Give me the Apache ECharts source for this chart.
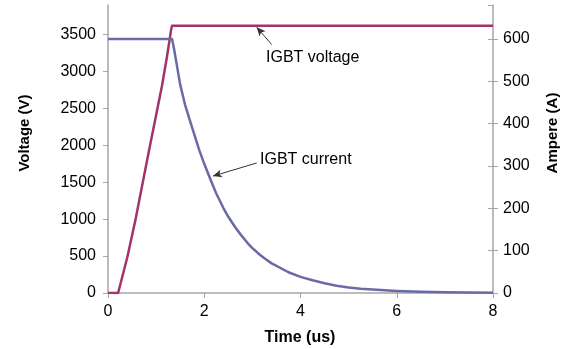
<!DOCTYPE html>
<html><head><meta charset="utf-8">
<script src="https://cdn.jsdelivr.net/npm/echarts@6/dist/echarts.min.js"></script>
<style>html,body{margin:0;padding:0;background:#fff}#c{width:574px;height:349px}</style>
</head><body><div id="c"></div>
<script>
// Time (us) and values
const voltageTime = [0, 0.21, 0.40, 0.57, 0.84, 1.12, 1.22, 1.28, 1.31, 1.33, 8];
const voltageVals = [0, 0, 480, 990, 1890, 2800, 3180, 3430, 3560, 3620, 3620];
const currentTime = [0, 1.33, 1.37, 1.42, 1.5, 1.6, 1.75, 1.9, 2.0, 2.15, 2.25, 2.4, 2.5, 2.65, 2.75, 2.9, 3.0, 3.15, 3.25, 3.4, 3.5, 3.75, 4.0, 4.25, 4.5, 4.75, 5.0, 5.25, 5.5, 6.0, 6.5, 7.0, 7.5, 8.0];
const currentVals = [600, 600, 578, 545, 492, 445, 390, 336, 305, 262, 235, 200, 180, 154, 139, 118, 106, 91, 82, 70, 64, 49, 38, 30, 23, 17, 13, 10, 8, 5, 3, 2, 1, 0.5];
const xTicks = [0, 2, 4, 6, 8];
const voltageTicks = [0, 500, 1000, 1500, 2000, 2500, 3000, 3500];
const ampereTicks = [0, 100, 200, 300, 400, 500, 600];

const font = 'Liberation Sans, Arial, sans-serif';
const axisGrey = '#a6a6a6';
const chart = echarts.init(document.getElementById('c'));
chart.setOption({
  animation: false,
  grid: { left: 108, right: 81, top: 5, bottom: 56 },
  xAxis: {
    type: 'value', min: 0, max: 8, interval: 2,
    axisLine: { lineStyle: { color: axisGrey, width: 1.5 } },
    axisTick: { length: 5, lineStyle: { color: axisGrey } },
    splitLine: { show: false },
    axisLabel: { color: '#000', fontSize: 16, fontFamily: font, margin: 11,
      formatter: v => xTicks.includes(v) ? String(v) : '' }
  },
  yAxis: [
    { type: 'value', min: 0, max: 3900, interval: 500, position: 'left',
      axisLine: { show: true, lineStyle: { color: axisGrey, width: 1.5 } },
      axisTick: { show: true, length: 5, lineStyle: { color: axisGrey } },
      splitLine: { show: false },
      axisLabel: { color: '#000', fontSize: 16, fontFamily: font, margin: 12, showMaxLabel: false,
        formatter: v => voltageTicks.includes(v) ? String(v) : '' } },
    { type: 'value', min: 0, max: 680, interval: 100, position: 'right',
      axisLine: { show: true, lineStyle: { color: axisGrey, width: 1.5 } },
      axisTick: { show: true, length: 5, lineStyle: { color: axisGrey } },
      splitLine: { show: false },
      axisLabel: { color: '#000', fontSize: 16, fontFamily: font, margin: 10, showMaxLabel: false,
        formatter: v => ampereTicks.includes(v) ? String(v) : '' } },
    { type: 'value', min: 0, max: 680, interval: 100, position: 'right',
      axisLine: { show: false }, axisLabel: { show: false }, splitLine: { show: false },
      axisTick: { show: true, inside: true, length: 5, lineStyle: { color: axisGrey } } }
  ],
  series: [
    { type: 'line', yAxisIndex: 0, showSymbol: false, smooth: false,
      data: voltageTime.map((t, i) => [t, voltageVals[i]]),
      lineStyle: { color: '#a3336b', width: 2.5, join: 'round' },
      markLine: { silent: true, symbol: ['none', 'arrow'], symbolSize: [6, 9],
        lineStyle: { color: '#333', width: 1, type: 'solid' }, label: { show: false },
        data: [[{ coord: [3.40, 3365] }, { coord: [3.09, 3600] }]] } },
    { type: 'line', yAxisIndex: 1, showSymbol: false, smooth: false,
      data: currentTime.map((t, i) => [t, currentVals[i]]),
      lineStyle: { color: '#6a6aa6', width: 2.5, join: 'round' },
      markLine: { silent: true, symbol: ['none', 'arrow'], symbolSize: [6, 9],
        lineStyle: { color: '#333', width: 1, type: 'solid' }, label: { show: false },
        data: [[{ coord: [3.09, 307] }, { coord: [2.18, 276] }]] } }
  ],
  graphic: [
    { type: 'text', left: 266, top: 50, style: { text: 'IGBT voltage', font: '16px ' + font, fill: '#000' } },
    { type: 'text', left: 260, top: 152, style: { text: 'IGBT current', font: '16px ' + font, fill: '#000' } },
    { type: 'text', x: 25, y: 133, rotation: Math.PI / 2,
      style: { text: 'Voltage (V)', font: 'bold 15px ' + font, fill: '#000', align: 'center', verticalAlign: 'middle' } },
    { type: 'text', x: 553, y: 133, rotation: Math.PI / 2,
      style: { text: 'Ampere (A)', font: 'bold 15px ' + font, fill: '#000', align: 'center', verticalAlign: 'middle' } },
    { type: 'text', x: 300, y: 338,
      style: { text: 'Time (us)', font: 'bold 16px ' + font, fill: '#000', align: 'center', verticalAlign: 'middle' } }
  ]
});
</script></body></html>
